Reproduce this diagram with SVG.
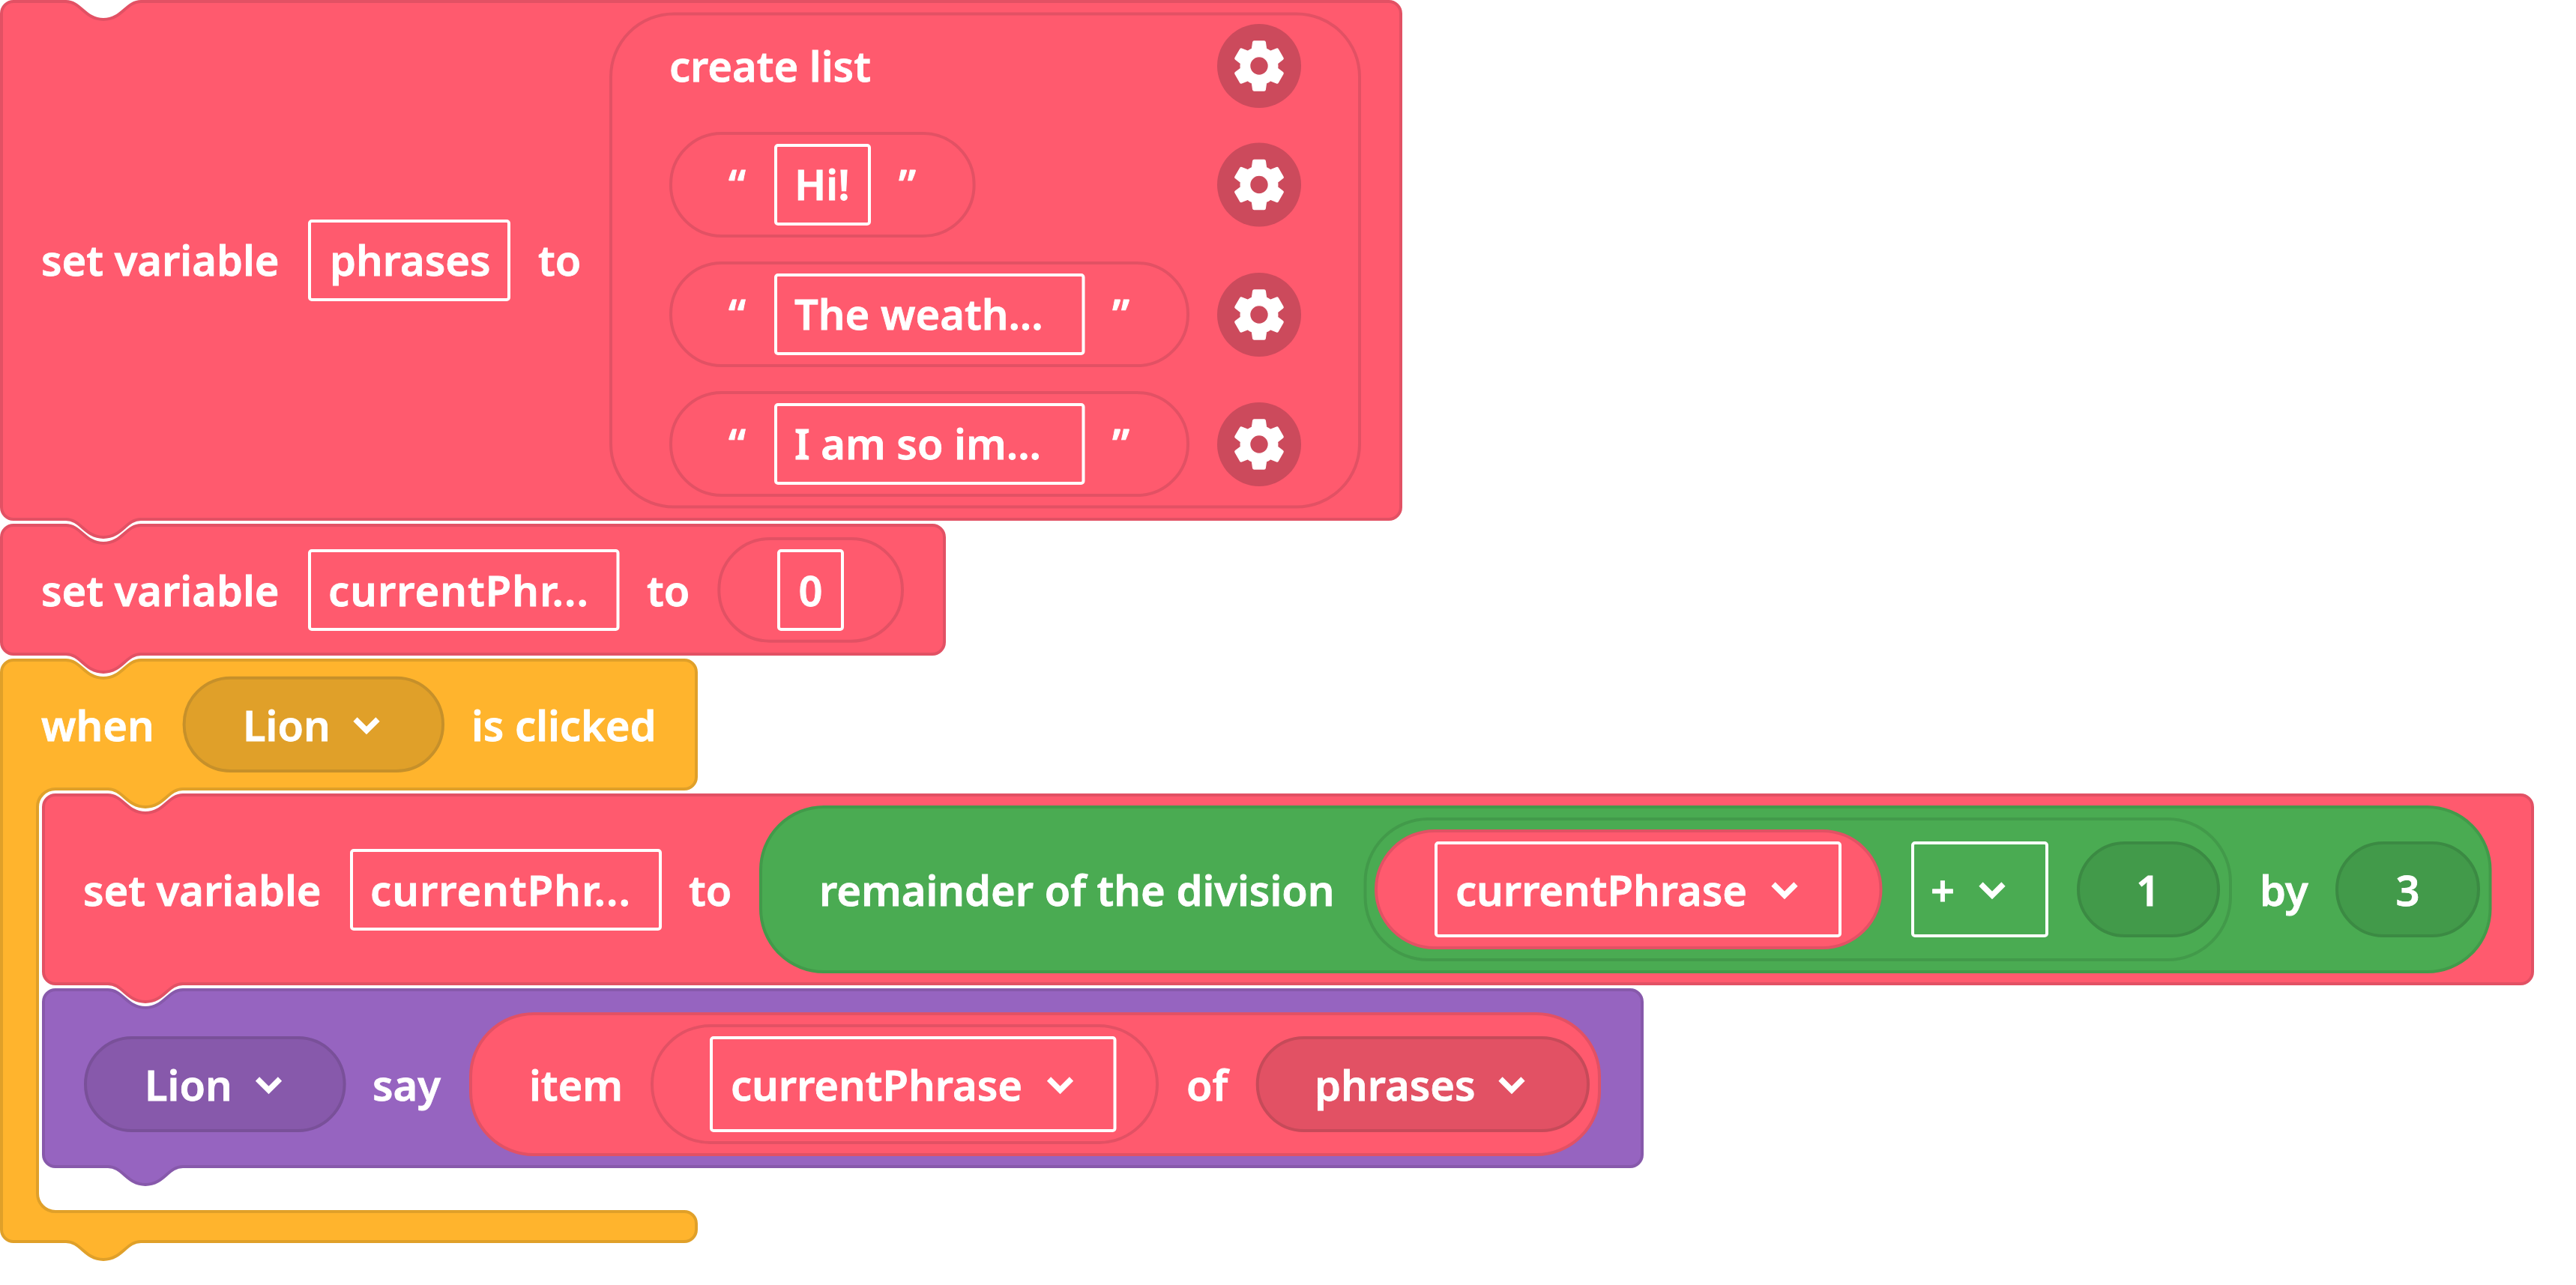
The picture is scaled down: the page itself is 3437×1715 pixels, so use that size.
<svg xmlns="http://www.w3.org/2000/svg" width="3437" height="1715" viewBox="0 0 3437 1715">
<defs>
<style>
text{font-family:"Noto Sans","Open Sans",sans-serif;font-weight:600;font-size:56px;fill:#fff;stroke:#fff;stroke-width:.8}
.f{fill:none;stroke:#fff;stroke-width:4}
.r{fill:#ff5a6e;stroke:#e25164;stroke-width:4}
.y{fill:#ffb42d;stroke:#e0a029;stroke-width:4}
.g{fill:#4aab52;stroke:#429a4a;stroke-width:4}
.gd{fill:#429a4a;stroke:#3b8a43;stroke-width:4}
.p{fill:#9664c0;stroke:#8759ab;stroke-width:4}
.yd{fill:#e0a029;stroke:#c6902a;stroke-width:4}
.pd{fill:#8759ab;stroke:#795099;stroke-width:4}
.rd{fill:#e25164;stroke:#c64a59;stroke-width:4}
.c{fill:none;stroke:#fff;stroke-width:7.5}
.gc{fill:#cc4a5c}
</style>
<polyline id="chev" class="c" points="-15,-8 0,7 15,-8"/>
<g id="gear"><circle class="gc" r="56"/><path fill="#fff" stroke="#fff" stroke-width=".4" fill-rule="evenodd" transform="translate(-41.3,-41.3) scale(3.44)" d="M19.14,12.94c0.04-0.3,0.06-0.61,0.06-0.94c0-0.32-0.02-0.64-0.07-0.94l2.03-1.58c0.18-0.14,0.23-0.41,0.12-0.61l-1.92-3.32c-0.12-0.22-0.37-0.29-0.59-0.22l-2.39,0.96c-0.5-0.38-1.03-0.7-1.62-0.94L14.4,2.81c-0.04-0.24-0.24-0.41-0.48-0.41h-3.84c-0.24,0-0.43,0.17-0.47,0.41L9.25,5.35C8.66,5.59,8.12,5.92,7.63,6.29L5.24,5.33c-0.22-0.08-0.47,0-0.59,0.22L2.74,8.87C2.62,9.08,2.66,9.34,2.86,9.48l2.03,1.58C4.84,11.36,4.8,11.69,4.8,12s0.02,0.64,0.07,0.94l-2.03,1.58c-0.18,0.14-0.23,0.41-0.12,0.61l1.92,3.32c0.12,0.22,0.37,0.29,0.59,0.22l2.39-0.96c0.5,0.38,1.03,0.7,1.62,0.94l0.36,2.54c0.05,0.24,0.24,0.41,0.48,0.41h3.84c0.24,0,0.44-0.17,0.47-0.41l0.36-2.54c0.59-0.24,1.13-0.56,1.62-0.94l2.39,0.96c0.22,0.08,0.47,0,0.59-0.22l1.92-3.32c0.12-0.22,0.07-0.47-0.12-0.61L19.14,12.94z M12,15.6c-1.98,0-3.6-1.62-3.6-3.6s1.62-3.6,3.6-3.6s3.6,1.62,3.6,3.6S13.98,15.6,12,15.6z"/></g>
</defs>
<g id="connectors"></g>
<g id="block-when">
<path class="y" d="M18,881H88C108,881 113,905 138,905C163,905 168,881 188,881H913A16,16 0 0 1 929,897V1037A16,16 0 0 1 913,1053H244C224,1053 219,1077 194,1077C169,1077 164,1053 144,1053H74A24,24 0 0 0 50,1077V1593A24,24 0 0 0 74,1617H913A16,16 0 0 1 929,1633V1641A16,16 0 0 1 913,1657H188C168,1657 163,1681 138,1681C113,1681 108,1657 88,1657H18A16,16 0 0 1 2,1641V897A16,16 0 0 1 18,881Z"/>
<text x="55" y="989">when</text>
<rect class="yd" x="245.600" y="904.700" width="345.400" height="124.300" rx="62"/>
<text x="324" y="989">Lion</text>
<use href="#chev" x="489" y="968"/>
<text x="629" y="989">is clicked</text>
</g>
<g id="block-set-phrases">
<path class="r" d="M18,2H88C108,2 113,26 138,26C163,26 168,2 188,2H1853A16,16 0 0 1 1869,18V677A16,16 0 0 1 1853,693H188C168,693 163,717 138,717C113,717 108,693 88,693H18A16,16 0 0 1 2,677V18A16,16 0 0 1 18,2Z"/>
<text x="55" y="368">set variable</text>
<rect class="f" x="413" y="295" width="266" height="105" rx="3"/>
<text x="440" y="368">phrases</text>
<text x="718" y="368">to</text>
<g id="create-list">
<rect class="r" x="815" y="18.500" width="999" height="658" rx="84"/>
<text x="893" y="109">create list</text>
<use href="#gear" x="1680" y="88"/>
<g id="item-hi">
<rect class="r" x="895" y="178" width="404.600" height="137" rx="68"/>
<text x="972" y="267">“</text>
<rect class="f" x="1035" y="194" width="125" height="105" rx="3"/>
<text x="1060" y="267">Hi!</text>
<text x="1199" y="267">”</text>
<use href="#gear" x="1680" y="246.500"/>
</g>
<g id="item-weather">
<rect class="r" x="895" y="351" width="690" height="137" rx="68"/>
<text x="972" y="440">“</text>
<rect class="f" x="1035" y="367" width="410.500" height="105" rx="3"/>
<text x="1060" y="440">The weath...</text>
<text x="1484" y="440">”</text>
<use href="#gear" x="1680" y="420"/>
</g>
<g id="item-am">
<rect class="r" x="895" y="524" width="690" height="137" rx="68"/>
<text x="972" y="613">“</text>
<rect class="f" x="1035" y="540" width="410.500" height="105" rx="3"/>
<text x="1060" y="613">I am so im...</text>
<text x="1484" y="613">”</text>
<use href="#gear" x="1680" y="593"/>
</g>
</g>
</g>
<g id="block-set-current">
<path class="r" d="M18,701H88C108,701 113,725 138,725C163,725 168,701 188,701H1244A16,16 0 0 1 1260,717V857A16,16 0 0 1 1244,873H188C168,873 163,897 138,897C113,897 108,873 88,873H18A16,16 0 0 1 2,857V717A16,16 0 0 1 18,701Z"/>
<text x="55" y="809">set variable</text>
<rect class="f" x="413" y="735" width="411.500" height="105" rx="3"/>
<text x="438" y="809" textLength="347" lengthAdjust="spacing">currentPhr...</text>
<text x="863" y="809">to</text>
<rect class="r" x="959.300" y="719" width="244.700" height="136.700" rx="68"/>
<rect class="f" x="1039" y="735" width="85" height="105" rx="3"/>
<text x="1081.500" y="809" text-anchor="middle">0</text>
</g>
<g id="block-set-remainder">
<path class="r" d="M74,1061H144C164,1061 169,1085 194,1085C219,1085 224,1061 244,1061H3363A16,16 0 0 1 3379,1077V1297A16,16 0 0 1 3363,1313H244C224,1313 219,1337 194,1337C169,1337 164,1313 144,1313H74A16,16 0 0 1 58,1297V1077A16,16 0 0 1 74,1061Z"/>
<text x="111" y="1209">set variable</text>
<rect class="f" x="469" y="1135" width="412" height="105" rx="3"/>
<text x="494" y="1209" textLength="347" lengthAdjust="spacing">currentPhr...</text>
<text x="919" y="1209">to</text>
<g id="remainder">
<rect class="g" x="1015" y="1077" width="2307.500" height="220" rx="84"/>
<text x="1093" y="1209">remainder of the division</text>
<rect class="g" x="1821.500" y="1093" width="1154.500" height="188" rx="84"/>
<rect class="r" x="1836" y="1109" width="673.500" height="156" rx="78"/>
<rect class="f" x="1916" y="1125" width="539" height="124" rx="3"/>
<text x="1942" y="1209">currentPhrase</text>
<use href="#chev" x="2381" y="1188"/>
<rect class="f" x="2552" y="1125" width="179" height="124" rx="3"/>
<text x="2576" y="1209">+</text>
<use href="#chev" x="2658" y="1188"/>
<rect class="gd" x="2773" y="1125" width="187" height="124" rx="62"/>
<text x="2866" y="1209" text-anchor="middle">1</text>
<text x="3015" y="1209">by</text>
<rect class="gd" x="3118" y="1125" width="189" height="124" rx="62"/>
<text x="3212.500" y="1209" text-anchor="middle">3</text>
</g>
</g>
<g id="block-say">
<path class="p" d="M74,1321H144C164,1321 169,1345 194,1345C219,1345 224,1321 244,1321H2175A16,16 0 0 1 2191,1337V1541A16,16 0 0 1 2175,1557H244C224,1557 219,1581 194,1581C169,1581 164,1557 144,1557H74A16,16 0 0 1 58,1541V1337A16,16 0 0 1 74,1321Z"/>
<rect class="pd" x="114" y="1385" width="345.600" height="124" rx="62"/>
<text x="193" y="1469">Lion</text>
<use href="#chev" x="358.500" y="1448"/>
<text x="497" y="1469">say</text>
<g id="item-of">
<rect class="r" x="628" y="1353" width="1506" height="188" rx="84"/>
<text x="706" y="1469">item</text>
<rect class="r" x="870" y="1369" width="674" height="156" rx="78"/>
<rect class="f" x="949" y="1385" width="538.500" height="124" rx="3"/>
<text x="975" y="1469">currentPhrase</text>
<use href="#chev" x="1414.500" y="1448"/>
<text x="1583" y="1469">of</text>
<rect class="rd" x="1677.700" y="1385" width="441.300" height="124" rx="62"/>
<text x="1754" y="1469">phrases</text>
<use href="#chev" x="2017" y="1448"/>
</g>
</g>
</svg>
